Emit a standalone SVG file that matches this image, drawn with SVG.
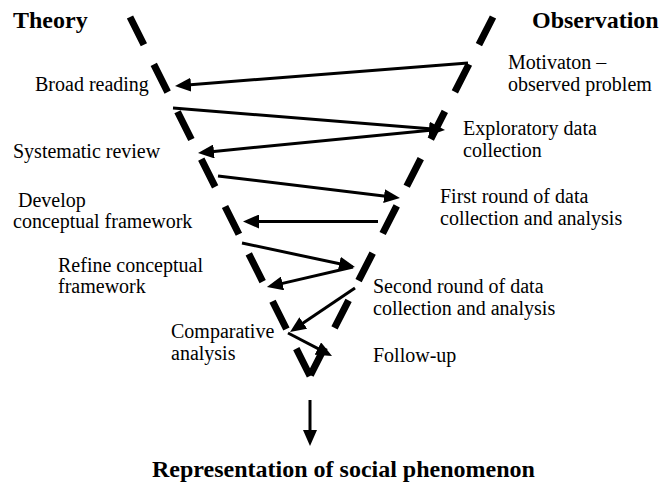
<svg xmlns="http://www.w3.org/2000/svg" width="665" height="483" viewBox="0 0 665 483">
<style>
.t{font-size:20px}
.b{font-size:24px;font-weight:bold}
.funnel{stroke:#000;stroke-width:7;stroke-dasharray:31 22;fill:none}
.c{stroke:#000;stroke-width:3;fill:none;marker-end:url(#ah)}
</style>
<defs>
<marker id="ah" markerUnits="userSpaceOnUse" markerWidth="16" markerHeight="14" refX="10" refY="7" orient="auto">
<path d="M0,0 L16,7 L0,14 z" fill="#000"/>
</marker>
</defs>
<rect width="665" height="483" fill="#fff"/>
<g id="funnel">
<line class="funnel" x1="130" y1="17" x2="310" y2="376"/>
<line class="funnel" x1="493" y1="17" x2="310" y2="376"/>
</g>
<g id="connectors">
<line class="c" x1="468" y1="63" x2="181" y2="85.5"/>
<line class="c" x1="173" y1="108" x2="439" y2="129.5"/>
<line class="c" x1="433" y1="130" x2="204" y2="152.4"/>
<line class="c" x1="218" y1="176" x2="394" y2="197.3"/>
<line class="c" x1="378" y1="221.5" x2="249" y2="221.5"/>
<line class="c" x1="242" y1="243" x2="349.1" y2="265.75"/>
<line class="c" x1="353" y1="267" x2="272.8" y2="285.6"/>
<line class="c" x1="355" y1="288" x2="295" y2="328.6"/>
<line class="c" x1="288" y1="333" x2="326.7" y2="353.2"/>
<line class="c" x1="310" y1="400" x2="310" y2="440"/>
</g>
<g font-family="'Liberation Serif', 'Times New Roman', 'DejaVu Serif', serif" fill="#000">
<g id="theory"><text class="b" x="13" y="28">Theory</text></g>
<g id="observation"><text class="b" x="532" y="28">Observation</text></g>
<g id="motivation"><text class="t" x="508" y="69">Motivaton –</text><text class="t" x="508" y="91">observed problem</text></g>
<g id="broad-reading"><text class="t" x="35" y="91">Broad reading</text></g>
<g id="exploratory"><text class="t" x="463" y="135">Exploratory data</text><text class="t" x="463" y="157">collection</text></g>
<g id="systematic-review"><text class="t" x="13" y="158">Systematic review</text></g>
<g id="first-round"><text class="t" x="440" y="203">First round of data</text><text class="t" x="440" y="225">collection and analysis</text></g>
<g id="develop"><text class="t" x="18" y="207">Develop</text><text class="t" x="13" y="228">conceptual framework</text></g>
<g id="refine"><text class="t" x="58" y="272">Refine conceptual</text><text class="t" x="58" y="293">framework</text></g>
<g id="second-round"><text class="t" x="373" y="293">Second round of data</text><text class="t" x="373" y="315">collection and analysis</text></g>
<g id="comparative"><text class="t" x="171" y="338">Comparative</text><text class="t" x="171" y="360">analysis</text></g>
<g id="follow-up"><text class="t" x="373" y="362">Follow-up</text></g>
<g id="representation"><text class="b" x="152" y="477">Representation of social phenomenon</text></g>
</g>
</svg>
